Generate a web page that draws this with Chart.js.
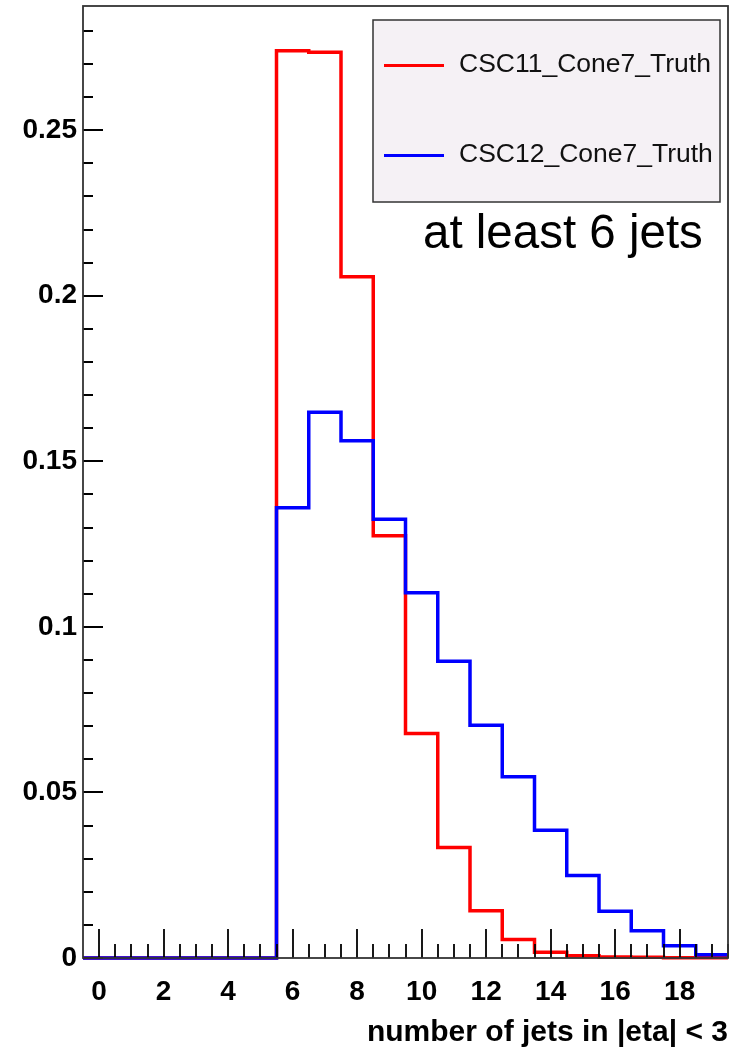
<!DOCTYPE html>
<html>
<head>
<meta charset="utf-8">
<script src="https://cdn.jsdelivr.net/npm/chart.js@4"></script>
<style>
  body { margin: 0; background: #fff; }
  #wrap { width: 732px; height: 1052px; }
</style>
</head>
<body>
<div id="wrap"><canvas id="myChart" width="732" height="1052"></canvas></div>
<script>
// bins are number of jets, 0..19
const bins = [0, 1, 2, 3, 4, 5, 6, 7, 8, 9, 10, 11, 12, 13, 14, 15, 16, 17, 18, 19];
const csc11 = [0, 0, 0, 0, 0, 0, 0.274, 0.2735, 0.2057, 0.1275, 0.0678, 0.0334, 0.0143, 0.0056, 0.0017, 0.0007, 0.0003, 0.0002, 0.0001, 0.0001];
const csc12 = [0, 0, 0, 0, 0, 0, 0.136, 0.1648, 0.1562, 0.1325, 0.1103, 0.0896, 0.0703, 0.0547, 0.0386, 0.0249, 0.0141, 0.0082, 0.0037, 0.0010];
const seriesNames = ['CSC11_Cone7_Truth', 'CSC12_Cone7_Truth'];
const xMajorTicks = [0, 2, 4, 6, 8, 10, 12, 14, 16, 18];
const yMajorTicks = [0, 0.05, 0.1, 0.15, 0.2, 0.25];
const annotation = 'at least 6 jets';
const xTitle = 'number of jets in |eta| < 3';

// histogram outline: one point per lower bin edge + closing right edge
function histPoints(vals) {
  const pts = bins.map((b, i) => ({ x: b - 0.5, y: vals[i] }));
  pts.push({ x: bins[bins.length - 1] + 0.5, y: vals[vals.length - 1] });
  return pts;
}

const FONT = '"Liberation Sans", Arial, sans-serif';

// ROOT style frame, inside ticks, legend box and label
const rootStyle = {
  id: 'rootStyle',
  afterDatasetsDraw(chart) {
    const { ctx, chartArea: a, scales: { x, y } } = chart;
    ctx.save();
    ctx.strokeStyle = '#000';
    ctx.lineWidth = 1.8;
    ctx.beginPath();
    // x ticks every 0.5, long ones at the labelled values
    for (let v = 0; v <= 19.5; v += 0.5) {
      const px = Math.round(x.getPixelForValue(v));
      const len = xMajorTicks.includes(v) ? 29 : 14;
      ctx.moveTo(px, a.bottom);
      ctx.lineTo(px, a.bottom - len);
    }
    // y ticks every 0.01
    for (let k = 0; k <= 28; k++) {
      const v = k / 100;
      const py = Math.round(y.getPixelForValue(v));
      const len = k % 5 === 0 ? 20 : 10;
      ctx.moveTo(a.left, py);
      ctx.lineTo(a.left + len, py);
    }
    ctx.stroke();

    // frame
    ctx.strokeStyle = '#333';
    ctx.lineWidth = 1.8;
    ctx.strokeRect(a.left, a.top, a.right - a.left, a.bottom - a.top);

    // legend
    ctx.fillStyle = '#f5f1f5';
    ctx.fillRect(373, 20, 347, 182);
    ctx.strokeStyle = '#333';
    ctx.lineWidth = 1.5;
    ctx.strokeRect(373, 20, 347, 182);
    const colors = [chart.data.datasets[0].borderColor, chart.data.datasets[1].borderColor];
    const rows = [65.5, 155.5];
    ctx.font = '26.5px ' + FONT;
    ctx.textBaseline = 'middle';
    ctx.textAlign = 'left';
    seriesNames.forEach((name, i) => {
      ctx.strokeStyle = colors[i];
      ctx.lineWidth = 3;
      ctx.beginPath();
      ctx.moveTo(384, rows[i]);
      ctx.lineTo(444, rows[i]);
      ctx.stroke();
      ctx.fillStyle = '#111';
      ctx.fillText(name, 459, rows[i] - 1);
    });

    // annotation
    ctx.font = '47.5px ' + FONT;
    ctx.fillStyle = '#000';
    ctx.textBaseline = 'alphabetic';
    ctx.fillText(annotation, 423, 248);
    ctx.restore();
  }
};

const ctx = document.getElementById('myChart');

new Chart(ctx, {
  type: 'line',
  data: {
    datasets: [
      {
        label: seriesNames[0],
        data: histPoints(csc11),
        borderColor: '#ff0000',
        borderWidth: 3.5,
        stepped: true,
        pointRadius: 0,
        fill: false,
        clip: 4,
        order: 1
      },
      {
        label: seriesNames[1],
        data: histPoints(csc12),
        borderColor: '#0000ff',
        borderWidth: 3.5,
        stepped: true,
        pointRadius: 0,
        fill: false,
        clip: 4,
        order: 0
      }
    ]
  },
  options: {
    responsive: false,
    animation: false,
    devicePixelRatio: 1,
    layout: { padding: { top: 6, right: 4, left: 0, bottom: 0 } },
    plugins: {
      legend: { display: false },
      tooltip: { enabled: false }
    },
    scales: {
      x: {
        type: 'linear',
        min: -0.5,
        max: 19.5,
        grid: { display: false, drawTicks: false },
        border: { display: false },
        afterBuildTicks: (scale) => {
          scale.ticks = xMajorTicks.map(v => ({ value: v }));
        },
        afterFit: (scale) => {
          scale.height = 94;
          scale.paddingLeft = 0;
          scale.paddingRight = 0;
        },
        ticks: {
          autoSkip: false,
          maxRotation: 0,
          padding: 17,
          color: '#000',
          font: { family: FONT, size: 28, weight: 'bold' },
          callback: (v) => String(v)
        },
        title: {
          display: true,
          text: xTitle,
          align: 'end',
          color: '#000',
          padding: { top: 0, bottom: 1 },
          font: { family: FONT, size: 30, weight: 'bold' }
        }
      },
      y: {
        type: 'linear',
        min: 0,
        max: 0.2875,
        grid: { display: false, drawTicks: false },
        border: { display: false },
        afterBuildTicks: (scale) => {
          scale.ticks = yMajorTicks.map(v => ({ value: v }));
        },
        afterFit: (scale) => {
          scale.width = 83;
          scale.paddingTop = 0;
          scale.paddingBottom = 0;
        },
        ticks: {
          padding: 6,
          color: '#000',
          font: { family: FONT, size: 28, weight: 'bold' },
          callback: (v) => String(v)
        }
      }
    }
  },
  plugins: [rootStyle]
});
</script>
</body>
</html>
